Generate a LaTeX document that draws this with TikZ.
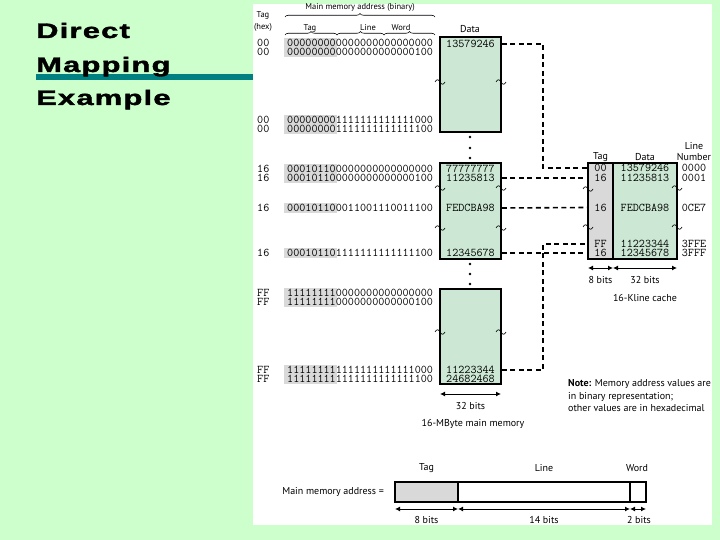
\documentclass[tikz,border=0pt]{standalone}
\usepackage{fontspec}
\usepackage{graphicx}
\usetikzlibrary{arrows.meta,decorations.pathreplacing}
\newfontfamily\labf{PT Sans}
\newfontfamily\titlef[LetterSpace=4,BoldFeatures={FakeBold=1.5}]{Liberation Sans}
\definecolor{bgg}{RGB}{204,255,204}
\definecolor{tealc}{RGB}{0,128,128}
\definecolor{mint}{RGB}{204,232,212}
\definecolor{gry}{RGB}{217,217,217}
\begin{document}
\begin{tikzpicture}[x=1pt,y=-1pt,
  txt/.style={font=\labf\fontsize{10}{11}\selectfont, inner sep=0pt},
  smalltxt/.style={font=\labf\fontsize{8.5}{12}\selectfont, inner sep=0pt},
  ttl/.style={anchor=base west, inner sep=0pt, font=\titlef\bfseries\fontsize{21}{21}\selectfont},
  bin/.style={font=\ttfamily\fontsize{11.8}{11}\selectfont, inner sep=0pt, anchor=west},
  hx/.style={font=\ttfamily\fontsize{11.8}{11}\selectfont, inner sep=0pt},
  memblk/.style={draw, line width=1.8pt, fill=mint, inner sep=0pt, minimum width=61pt},
  dsh/.style={line width=1.6pt, dash pattern=on 5pt off 3.5pt},
  arr/.style={line width=1pt, {Latex[length=5pt,width=5pt]}-{Latex[length=5pt,width=5pt]}},
  brc/.style={decorate, decoration={brace, amplitude=3.5pt}, line width=0.6pt},
  graytag/.style={fill=gry},
  wavy/.pic={\draw[line width=0.6pt] (-5,0) .. controls (-3.5,-3) and (-1.5,-3) .. (0,0) .. controls (1.5,3) and (3.5,3) .. (5,0);}
]
\useasboundingbox (0,0) rectangle (720,540);
\fill[bgg] (0,0) rectangle (720,540);
\draw[tealc, line width=6pt] (36,77) -- (253,77);
\fill[white] (253,4) rectangle (712,525);

% title
\node[ttl] (ti1) at (36,38) {\scalebox{1.47}[1]{Direct}};
\node[ttl] (ti2) at (36,72) {\scalebox{1.47}[1]{Mapping}};
\node[ttl] (ti3) at (36,105) {\scalebox{1.47}[1]{Example}};

% header
\node[smalltxt] (hdr) at (360,7) {Main memory address (binary)};
\draw[brc] (285,17) -- (435,17);
\node[smalltxt, align=center] (tagh) at (263,21) {Tag\\(hex)};
\node[smalltxt] (ht) at (310,28) {Tag};
\node[smalltxt] (hl) at (368,28) {Line};
\node[smalltxt] (hw) at (401,28) {Word};
\draw[brc] (285,35) -- (337,35);
\draw[brc] (337,35) -- (384,35);
\draw[brc] (384,35) -- (435,35);
\node[txt] (hdata) at (470,29) {Data};

% gray tag regions
\fill[graytag] (284,38) rectangle (337,57);
\fill[graytag] (284,115) rectangle (337,134);
\fill[graytag] (284,164) rectangle (337,183);
\fill[graytag] (284,203) rectangle (337,213);
\fill[graytag] (284,248) rectangle (337,258);
\fill[graytag] (284,288) rectangle (337,307);
\fill[graytag] (284,365) rectangle (337,384);

% addresses
\node[bin] (a1) at (287,43) {000000000000000000000000};
\node[bin] (a2) at (287,52) {000000000000000000000100};
\node[bin] (a3) at (287,120) {000000001111111111111000};
\node[bin] (a4) at (287,129) {000000001111111111111100};
\node[bin] (a5) at (287,169) {000101100000000000000000};
\node[bin] (a6) at (287,178) {000101100000000000000100};
\node[bin] (a7) at (287,208) {000101100011001110011100};
\node[bin] (a8) at (287,253) {000101101111111111111100};
\node[bin] (a9) at (287,293) {111111110000000000000000};
\node[bin] (a10) at (287,302) {111111110000000000000100};
\node[bin] (a11) at (287,370) {111111111111111111111000};
\node[bin] (a12) at (287,379) {111111111111111111111100};

\node[bin] (h1) at (257,43) {00};
\node[bin] (h2) at (257,52) {00};
\node[bin] (h3) at (257,120) {00};
\node[bin] (h4) at (257,129) {00};
\node[bin] (h5) at (257,169) {16};
\node[bin] (h6) at (257,178) {16};
\node[bin] (h7) at (257,208) {16};
\node[bin] (h8) at (257,253) {16};
\node[bin] (h9) at (257,293) {FF};
\node[bin] (h10) at (257,302) {FF};
\node[bin] (h11) at (257,370) {FF};
\node[bin] (h12) at (257,379) {FF};

% main memory blocks
\node[memblk, minimum height=95pt] (blk1) at (470.5,84.5) {};
\node[memblk, minimum height=96pt] (blk2) at (470.5,211) {};
\node[memblk, minimum height=95pt] (blk3) at (470.5,336.5) {};

\node[hx] (d1) at (470.5,44) {13579246};
\node[hx] (d2) at (470.5,169) {77777777};
\node[hx] (d3) at (470.5,178) {11235813};
\node[hx] (d4) at (470.5,208) {FEDCBA98};
\node[hx] (d5) at (470.5,253) {12345678};
\node[hx] (d6) at (470.5,370) {11223344};
\node[hx] (d7) at (470.5,379) {24682468};

\foreach \yy in {137,148,158,264,274,284} \fill (470,\yy) circle (1.3pt);

\pic at (440,82) {wavy}; \pic at (501,82) {wavy};
\pic at (440,188) {wavy}; \pic at (501,188) {wavy};
\pic at (440,228) {wavy}; \pic at (501,228) {wavy};
\pic at (440,332) {wavy}; \pic at (501,332) {wavy};

\draw[arr] (440,394) -- (501,394);
\node[txt] (m32) at (470.5,406) {32 bits};
\node[txt] (mcap) at (473,424) {16-MByte main memory};

% cache
\node[draw, line width=1.8pt, fill=gry, minimum width=25pt, minimum height=96pt, inner sep=0pt] (ctag) at (600.5,211) {};
\node[draw, line width=1.8pt, fill=mint, minimum width=64pt, minimum height=96pt, inner sep=0pt] (cdat) at (645,211) {};
\node[txt] (cth) at (600.5,157) {Tag};
\node[txt] (cdh) at (645,157) {Data};
\node[txt, align=center] (clh) at (694,152) {Line\\Number};

\node[hx] (t1) at (600.5,168) {00};
\node[hx] (t2) at (600.5,178) {16};
\node[hx] (t3) at (600.5,207.5) {16};
\node[hx] (t4) at (600.5,244) {FF};
\node[hx] (t5) at (600.5,253) {16};
\node[hx] (c1) at (645,168) {13579246};
\node[hx] (c2) at (645,178) {11235813};
\node[hx] (c3) at (645,207.5) {FEDCBA98};
\node[hx] (c4) at (645,244) {11223344};
\node[hx] (c5) at (645,253) {12345678};
\node[hx] (n1) at (694,168) {0000};
\node[hx] (n2) at (694,178) {0001};
\node[hx] (n3) at (694,207.5) {0CE7};
\node[hx] (n4) at (694,244) {3FFE};
\node[hx] (n5) at (694,253) {3FFF};

\pic at (588,189) {wavy}; \pic at (677,188) {wavy};
\pic at (588,227) {wavy}; \pic at (677,227) {wavy};

\draw[arr] (588,268) -- (613,268);
\draw[arr] (613,268) -- (677,268);
\node[txt] (c8) at (600.5,280) {8 bits};
\node[txt] (c32) at (645,280) {32 bits};
\node[txt] (ccap) at (645,298) {16-Kline cache};

% dashed connectors
\coordinate (v1) at (543,0);
\draw[dsh] (blk1.east |- d1) -- (d1 -| v1) -- (t1 -| v1) -- (ctag.west |- t1);
\draw[dsh] (blk2.east |- d3) -- (ctag.west |- t2);
\draw[dsh] (blk2.east |- d4) -- (ctag.west |- t3);
\draw[dsh] (blk2.east |- d5) -- (ctag.west |- t5);
\draw[dsh] (blk3.east |- d6) -- (d6 -| v1) -- (t4 -| v1) -- (ctag.west |- t4);

% note
\node[txt, anchor=west, align=left, font=\labf\fontsize{10}{12.5}\selectfont] (note) at (568,396)
  {\textbf{Note:} Memory address values are\\in binary representation;\\other values are in hexadecimal};

% bottom address format
\node[txt, anchor=east] (mma) at (384,492) {Main memory address =};
\node[draw, line width=1.2pt, fill=gry, minimum width=63pt, minimum height=20pt, inner sep=0pt] (ftag) at (426.5,492) {};
\node[draw, line width=1.2pt, fill=white, minimum width=172pt, minimum height=20pt, inner sep=0pt] (fline) at (544,492) {};
\node[draw, line width=1.2pt, fill=white, minimum width=16pt, minimum height=20pt, inner sep=0pt] (fword) at (638,492) {};
\node[txt] (ltag) at (426.5,468) {Tag};
\node[txt] (lline) at (544,468) {Line};
\node[txt] (lword) at (637,468) {Word};
\draw[arr] (395,509) -- (458,509);
\draw[arr] (458,509) -- (630,509);
\draw[arr] (630,509) -- (646,509);
\node[txt] (b8) at (426.5,520) {8 bits};
\node[txt] (b14) at (544,520) {14 bits};
\node[txt] (b2) at (639,520) {2 bits};
\end{tikzpicture}
\end{document}
